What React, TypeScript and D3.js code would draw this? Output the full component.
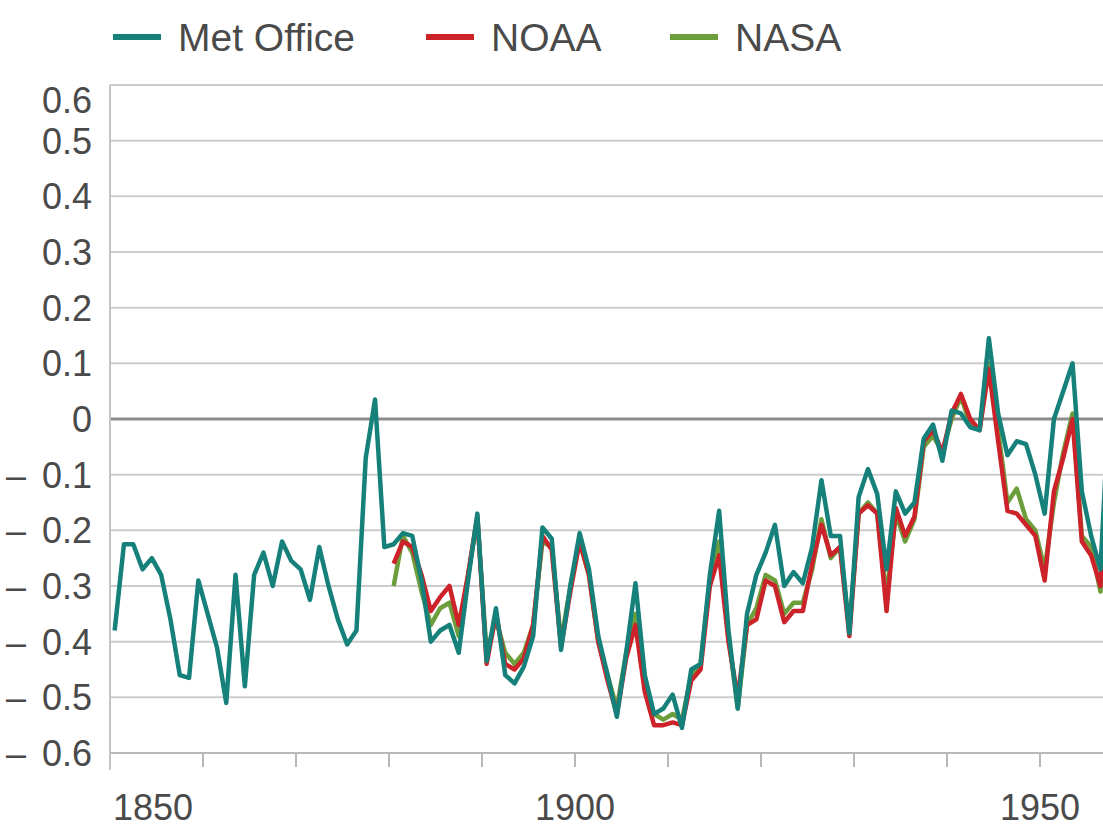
import React, { useEffect, useRef } from 'react';
import * as d3 from 'd3';

// annual anomalies
const metYears = d3.range(1850, 1958);
const metOffice = [
  -0.38, -0.225, -0.225, -0.27, -0.25, -0.28, -0.36, -0.46, -0.465, -0.29,
  -0.35, -0.41, -0.51, -0.28, -0.48, -0.28, -0.24, -0.3, -0.22, -0.255,
  -0.27, -0.325, -0.23, -0.3, -0.36, -0.405, -0.38, -0.07, 0.035, -0.23,
  -0.225, -0.205, -0.21, -0.29, -0.4, -0.38, -0.37, -0.42, -0.29, -0.17,
  -0.435, -0.34, -0.46, -0.475, -0.445, -0.39, -0.195, -0.215, -0.415, -0.3,
  -0.205, -0.27, -0.39, -0.46, -0.535, -0.42, -0.295, -0.46, -0.53, -0.52,
  -0.495, -0.555, -0.45, -0.44, -0.28, -0.165, -0.38, -0.52, -0.35, -0.28,
  -0.24, -0.19, -0.3, -0.275, -0.295, -0.23, -0.11, -0.21, -0.21, -0.385,
  -0.14, -0.09, -0.135, -0.27, -0.13, -0.17, -0.15, -0.035, -0.01, -0.075,
  0.015, 0.01, -0.015, -0.02, 0.145, 0.01, -0.065, -0.04, -0.045, -0.1,
  -0.17, 0.0, 0.05, 0.1, -0.13, -0.21, -0.27, 0.05,
];

const usYears = d3.range(1880, 1958);
const noaa = [
  -0.26, -0.22, -0.23, -0.28, -0.345, -0.32, -0.3, -0.37, -0.28, -0.175,
  -0.44, -0.35, -0.44, -0.45, -0.43, -0.37, -0.21, -0.235, -0.41, -0.31,
  -0.22, -0.28, -0.4, -0.47, -0.53, -0.43, -0.37, -0.49, -0.55, -0.55,
  -0.545, -0.55, -0.47, -0.45, -0.3, -0.245, -0.4, -0.5, -0.37, -0.36,
  -0.29, -0.3, -0.365, -0.345, -0.345, -0.26, -0.19, -0.245, -0.23, -0.39,
  -0.17, -0.155, -0.17, -0.345, -0.16, -0.21, -0.175, -0.04, -0.02, -0.06,
  0.01, 0.045, 0.0, -0.02, 0.09, -0.04, -0.165, -0.17, -0.19, -0.21,
  -0.29, -0.13, -0.07, 0.0, -0.22, -0.245, -0.3, -0.02,
];
const nasa = [
  -0.3, -0.21, -0.24, -0.31, -0.37, -0.34, -0.33, -0.39, -0.28, -0.18,
  -0.42, -0.36, -0.42, -0.44, -0.42, -0.37, -0.22, -0.23, -0.4, -0.3,
  -0.22, -0.28, -0.4, -0.46, -0.52, -0.42, -0.35, -0.48, -0.53, -0.54,
  -0.53, -0.54, -0.46, -0.44, -0.29, -0.22, -0.39, -0.52, -0.37, -0.34,
  -0.28, -0.29, -0.35, -0.33, -0.33, -0.27, -0.18, -0.25, -0.23, -0.38,
  -0.17, -0.15, -0.17, -0.32, -0.17, -0.22, -0.18, -0.05, -0.03, -0.06,
  0.0, 0.04, -0.01, -0.02, 0.1, -0.02, -0.15, -0.125, -0.18, -0.2,
  -0.27, -0.15, -0.06, 0.01, -0.21, -0.23, -0.31, -0.01,
];

const yTicks = [0.6, 0.5, 0.4, 0.3, 0.2, 0.1, 0, -0.1, -0.2, -0.3, -0.4, -0.5, -0.6];
const xTicks = d3.range(1850, 1960, 10);
const xLabels = [1850, 1900, 1950];

const series = [
  { name: 'Met Office', color: '#16807a', years: metYears, values: metOffice },
  { name: 'NOAA', color: '#cc2229', years: usYears, values: noaa },
  { name: 'NASA', color: '#6c9e3c', years: usYears, values: nasa },
];

const App = () => {
  const ref = useRef<SVGSVGElement>(null);

  useEffect(() => {
    const svg = d3.select(ref.current);
    svg.selectAll('*').remove();

    const width = 1103;
    const height = 828;
    const font = '"Liberation Sans", Arial, sans-serif';
    const textColor = '#4a4a4a';

    const x = d3.scaleLinear().domain([1850, 1900]).range([110, 575]);
    const y = d3.scaleLinear().domain([-0.6, 0.6]).range([753, 85]);

    svg.attr('width', width).attr('height', height);

    // gridlines
    svg.append('g')
      .selectAll('line')
      .data(yTicks)
      .enter()
      .append('line')
      .attr('x1', 110)
      .attr('x2', width)
      .attr('y1', d => y(d))
      .attr('y2', d => y(d))
      .attr('stroke', d => (d === 0 ? '#8c8c8c' : '#cccccc'))
      .attr('stroke-width', d => (d === 0 ? 3 : 2));

    // left axis line
    svg.append('line')
      .attr('x1', 110).attr('x2', 110)
      .attr('y1', 85).attr('y2', 770)
      .attr('stroke', '#c4c4c4').attr('stroke-width', 2);

    // bottom axis
    svg.append('line')
      .attr('x1', 110).attr('x2', width)
      .attr('y1', y(-0.6)).attr('y2', y(-0.6))
      .attr('stroke', '#b8b8b8').attr('stroke-width', 2);

    svg.append('g')
      .selectAll('line')
      .data(xTicks.slice(1))
      .enter()
      .append('line')
      .attr('x1', d => x(d))
      .attr('x2', d => x(d))
      .attr('y1', y(-0.6))
      .attr('y2', y(-0.6) + 14)
      .attr('stroke', '#b8b8b8')
      .attr('stroke-width', 2);

    // y labels: number right-aligned, minus sign set apart on the left
    const yLab = svg.append('g')
      .attr('font-family', font)
      .attr('font-size', 36)
      .attr('fill', textColor);

    yLab.selectAll('text.num')
      .data(yTicks)
      .enter()
      .append('text')
      .attr('class', 'num')
      .attr('x', 92)
      .attr('y', d => (d === 0.6 ? y(d) + 15 : y(d)))
      .attr('dy', '0.36em')
      .attr('text-anchor', 'end')
      .text(d => (d === 0 ? '0' : d3.format('.1f')(Math.abs(d))));

    yLab.selectAll('text.minus')
      .data(yTicks.filter(d => d < 0))
      .enter()
      .append('text')
      .attr('class', 'minus')
      .attr('x', 6)
      .attr('y', d => y(d))
      .attr('dy', '0.36em')
      .text('–');

    // x labels
    svg.append('g')
      .selectAll('text')
      .data(xLabels)
      .enter()
      .append('text')
      .attr('x', d => (d === 1850 ? x(d) + 3 : x(d)))
      .attr('y', 820)
      .attr('text-anchor', d => (d === 1850 ? 'start' : 'middle'))
      .attr('font-family', font)
      .attr('font-size', 36)
      .attr('fill', textColor)
      .text(d => d);

    // lines, NASA first so Met Office sits on top
    const line = d3.line<[number, number]>()
      .x(d => x(d[0] + 0.5))
      .y(d => y(d[1]));

    [...series].reverse().forEach(s => {
      svg.append('path')
        .datum(s.years.map((yr, i) => [yr, s.values[i]] as [number, number]))
        .attr('d', line)
        .attr('fill', 'none')
        .attr('stroke', s.color)
        .attr('stroke-width', 4.5)
        .attr('stroke-linejoin', 'round');
    });

    // legend
    const legendX = [113, 426, 670];
    const legend = svg.append('g');
    series.forEach((s, i) => {
      legend.append('line')
        .attr('x1', legendX[i]).attr('x2', legendX[i] + 48)
        .attr('y1', 37).attr('y2', 37)
        .attr('stroke', s.color).attr('stroke-width', 6);
      legend.append('text')
        .attr('x', legendX[i] + 65)
        .attr('y', 37)
        .attr('dy', '0.36em')
        .attr('font-family', font)
        .attr('font-size', 39)
        .attr('fill', textColor)
        .text(s.name);
    });
  }, []);

  return <svg ref={ref} style={{ position: 'absolute', left: 0, top: 0 }}></svg>;
};

export default App;
